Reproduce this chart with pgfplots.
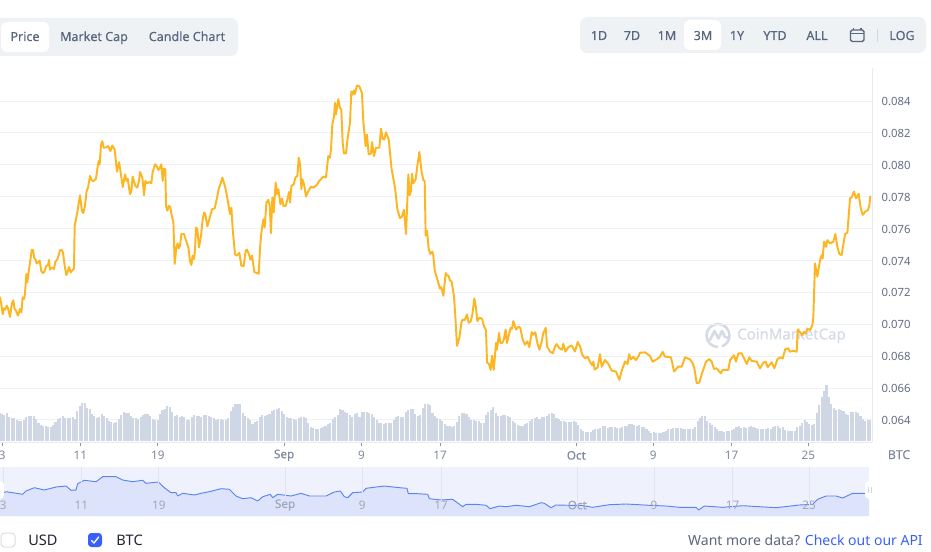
\documentclass[border=0pt]{standalone}
\usepackage{pgfplots}
\usepackage{pgfplotstable}
\usepackage{fontspec}
\setmainfont{Noto Sans}
\newfontfamily\semi[FakeBold=0.35]{Noto Sans}
\pgfplotsset{compat=1.18}
\definecolor{pricecol}{HTML}{FDB622}
\definecolor{gridcol}{HTML}{EFF2F5}
\definecolor{axcol}{HTML}{E6EAF1}
\definecolor{barcol}{HTML}{CFD6E4}
\definecolor{txtcol}{HTML}{616E85}
\definecolor{tabtxt}{HTML}{58667E}
\definecolor{tickcol}{HTML}{808A9D}
\definecolor{tabbg}{HTML}{EFF2F5}
\definecolor{navbg}{HTML}{EFF2FD}
\definecolor{navfill}{HTML}{DEE3FC}
\definecolor{navline}{HTML}{5A84F2}
\definecolor{navgrid}{HTML}{DFE3F5}
\definecolor{navtxt}{HTML}{A0A8B8}
\definecolor{wm}{HTML}{D5DBE6}
\definecolor{blue}{HTML}{3861FB}
\definecolor{dark}{HTML}{222531}
\pgfplotstableread{
d v
-0.21 0.07173
-0.07 0.07127
0.07 0.07063
0.21 0.07100
0.34 0.07092
0.48 0.07117
0.62 0.07100
0.82 0.07046
1.03 0.07133
1.16 0.07150
1.30 0.07096
1.44 0.07085
1.64 0.07054
1.85 0.07096
1.99 0.07075
2.12 0.07169
2.26 0.07158
2.36 0.07190
2.50 0.07315
2.60 0.07263
2.71 0.07315
2.95 0.07419
3.05 0.07467
3.19 0.07467
3.32 0.07413
3.43 0.07408
3.56 0.07381
3.70 0.07388
3.87 0.07400
4.04 0.07335
4.18 0.07321
4.35 0.07329
4.56 0.07367
4.73 0.07371
4.83 0.07404
4.93 0.07342
5.07 0.07354
5.21 0.07354
5.35 0.07346
5.48 0.07392
5.69 0.07408
5.82 0.07433
5.96 0.07463
6.13 0.07467
6.27 0.07450
6.44 0.07367
6.61 0.07308
6.75 0.07329
6.89 0.07360
7.06 0.07325
7.19 0.07335
7.40 0.07350
7.47 0.07618
7.54 0.07639
7.74 0.07701
8.02 0.07809
8.22 0.07712
8.36 0.07697
8.53 0.07743
8.70 0.07836
8.84 0.07857
9.05 0.07930
9.22 0.07905
9.39 0.07897
9.66 0.07913
9.84 0.07992
9.94 0.08024
10.04 0.08003
10.18 0.08128
10.31 0.08148
10.45 0.08107
10.66 0.08109
10.93 0.08117
11.14 0.08086
11.34 0.08121
11.58 0.08096
11.82 0.07957
12.03 0.08017
12.20 0.07951
12.41 0.07861
12.65 0.07940
12.78 0.07899
12.92 0.07913
13.16 0.07816
13.30 0.07836
13.43 0.07926
13.71 0.07868
13.91 0.07857
14.08 0.07899
14.19 0.07955
14.43 0.07920
14.60 0.07809
14.74 0.07899
14.94 0.07884
15.15 0.07892
15.35 0.07884
15.49 0.07955
15.73 0.08003
15.90 0.07992
16.07 0.07967
16.24 0.07982
16.38 0.08003
16.52 0.07899
16.62 0.07976
16.79 0.07972
16.86 0.07743
17.00 0.07712
17.17 0.07743
17.31 0.07732
17.41 0.07691
17.62 0.07639
17.75 0.07379
17.92 0.07483
18.06 0.07508
18.16 0.07476
18.30 0.07493
18.44 0.07566
18.71 0.07566
18.92 0.07524
19.16 0.07483
19.33 0.07393
19.47 0.07372
19.60 0.07431
19.74 0.07410
19.84 0.07462
19.94 0.07607
20.08 0.07597
20.25 0.07483
20.46 0.07556
20.63 0.07659
20.77 0.07701
20.90 0.07691
21.11 0.07614
21.31 0.07659
21.59 0.07722
21.86 0.07726
22.07 0.07784
22.27 0.07847
22.48 0.07884
22.65 0.07920
22.82 0.07888
23.03 0.07836
23.24 0.07764
23.44 0.07691
23.58 0.07732
23.71 0.07597
23.95 0.07441
24.12 0.07431
24.40 0.07447
24.60 0.07368
24.84 0.07364
25.05 0.07462
25.19 0.07468
25.43 0.07431
25.53 0.07406
25.70 0.07431
25.94 0.07327
26.18 0.07323
26.39 0.07316
26.52 0.07472
26.66 0.07576
26.87 0.07659
27.00 0.07607
27.18 0.07764
27.38 0.07780
27.52 0.07743
27.65 0.07572
27.79 0.07795
27.93 0.07701
28.13 0.07888
28.27 0.07816
28.41 0.07847
28.62 0.07753
28.79 0.07788
28.92 0.07743
29.17 0.07743
29.34 0.07784
29.51 0.07830
29.61 0.07764
29.75 0.07868
29.99 0.07878
30.16 0.07920
30.36 0.07930
30.50 0.08044
30.64 0.08003
30.77 0.07847
30.88 0.07909
31.05 0.07878
31.25 0.07801
31.49 0.07836
31.76 0.07863
32.00 0.07857
32.34 0.07872
32.62 0.07899
33.03 0.07926
33.30 0.07920
33.54 0.08055
33.71 0.08044
33.82 0.08096
33.95 0.08252
34.13 0.08304
34.23 0.08388
34.33 0.08315
34.57 0.08412
34.74 0.08356
34.88 0.08346
35.02 0.08138
35.15 0.08071
35.36 0.08071
35.53 0.08169
35.77 0.08263
35.91 0.08460
36.04 0.08440
36.18 0.08467
36.28 0.08444
36.49 0.08498
36.73 0.08492
37.00 0.08450
37.14 0.08273
37.38 0.08117
37.52 0.08190
37.69 0.08065
37.93 0.08071
38.03 0.08142
38.24 0.08055
38.44 0.08107
38.79 0.08107
38.96 0.08227
39.13 0.08163
39.30 0.08159
39.47 0.08204
39.75 0.08159
40.05 0.07972
40.40 0.07857
40.64 0.07722
40.91 0.07666
41.12 0.07676
41.32 0.07718
41.53 0.07566
41.77 0.07940
41.90 0.07809
42.04 0.07836
42.14 0.07944
42.28 0.07884
42.52 0.07909
42.69 0.07992
42.90 0.08080
43.14 0.07951
43.31 0.07905
43.45 0.07899
43.55 0.07556
43.69 0.07587
43.86 0.07472
44.03 0.07441
44.23 0.07456
44.34 0.07431
44.48 0.07337
44.78 0.07275
45.02 0.07223
45.16 0.07233
45.37 0.07179
45.61 0.07321
45.74 0.07306
45.88 0.07306
46.05 0.07275
46.22 0.07268
46.46 0.07175
46.60 0.07052
46.77 0.06865
47.01 0.06914
47.22 0.07009
47.35 0.07030
47.56 0.07026
47.66 0.07041
47.80 0.07062
47.97 0.07009
48.18 0.07019
48.35 0.07062
48.55 0.07162
48.72 0.07105
48.86 0.07020
49.07 0.07041
49.34 0.07035
49.55 0.06988
49.75 0.06963
49.86 0.06760
50.06 0.06752
50.23 0.06714
50.37 0.06804
50.54 0.06714
50.64 0.06777
50.78 0.06883
50.88 0.06841
51.09 0.06946
51.23 0.06883
51.43 0.06883
51.60 0.06908
51.77 0.06967
51.91 0.06883
52.15 0.06946
52.29 0.06978
52.43 0.06971
52.56 0.07020
52.84 0.06967
53.08 0.06984
53.28 0.06978
53.52 0.06904
53.76 0.06872
54.00 0.06893
54.21 0.06857
54.45 0.06950
54.58 0.06935
54.82 0.06950
55.03 0.06883
55.24 0.06841
55.44 0.06883
55.65 0.06946
55.89 0.06978
56.03 0.06861
56.33 0.06829
56.61 0.06819
56.85 0.06861
57.02 0.06876
57.29 0.06850
57.57 0.06841
57.70 0.06878
57.91 0.06829
58.22 0.06857
58.56 0.06867
58.90 0.06829
59.18 0.06889
59.42 0.06861
59.66 0.06808
59.93 0.06787
60.20 0.06797
60.44 0.06765
60.65 0.06744
60.79 0.06765
60.92 0.06716
61.23 0.06729
61.47 0.06813
61.64 0.06735
61.98 0.06776
62.33 0.06751
62.67 0.06710
63.11 0.06704
63.46 0.06652
63.73 0.06714
64.04 0.06766
64.31 0.06751
64.45 0.06813
64.66 0.06780
64.90 0.06797
65.14 0.06776
65.41 0.06797
65.58 0.06822
66.10 0.06824
66.61 0.06801
66.88 0.06766
67.30 0.06780
67.64 0.06797
67.91 0.06828
68.15 0.06797
68.77 0.06793
69.08 0.06704
69.52 0.06735
69.87 0.06735
70.21 0.06793
70.72 0.06780
71.00 0.06755
71.17 0.06724
71.41 0.06631
71.68 0.06635
71.96 0.06693
72.37 0.06766
72.71 0.06782
72.95 0.06766
73.19 0.06720
73.46 0.06724
73.88 0.06693
74.08 0.06714
74.66 0.06714
74.84 0.06776
75.25 0.06806
75.45 0.06766
75.69 0.06818
76.03 0.06818
76.55 0.06751
76.82 0.06793
77.06 0.06770
77.58 0.06766
77.92 0.06724
78.26 0.06760
78.50 0.06766
78.71 0.06731
79.12 0.06762
79.39 0.06724
79.70 0.06780
79.98 0.06793
80.25 0.06786
80.52 0.06845
80.83 0.06849
81.00 0.06828
81.35 0.06834
81.69 0.06828
81.79 0.06967
82.03 0.06952
82.27 0.06932
82.44 0.06952
82.61 0.06942
82.79 0.06973
83.06 0.06963
83.30 0.06994
83.40 0.07046
83.57 0.07382
83.81 0.07298
84.09 0.07403
84.26 0.07434
84.36 0.07413
84.50 0.07518
84.71 0.07486
84.84 0.07528
85.12 0.07507
85.46 0.07518
85.66 0.07566
85.87 0.07486
86.08 0.07440
86.31 0.07434
86.66 0.07566
86.90 0.07575
87.17 0.07790
87.34 0.07797
87.58 0.07832
87.79 0.07790
88.06 0.07818
88.27 0.07728
88.47 0.07686
88.75 0.07707
89.02 0.07717
89.16 0.07748
89.26 0.07805
}\pricedata
\pgfplotstableread{
d h
-0.31 21.7
0.31 24.3
1.0 23.3
2.02 21.7
2.36 25
3.22 28.3
4.25 26
5.45 29
6.48 30
6.99 25.7
7.5 26
7.68 32.3
8.36 35.7
9.56 34.3
10.25 39.3
11.62 39.3
12.30 36
13.33 34.3
14.36 35.7
14.70 32.7
15.97 34
16.59 28.3
17.27 23.3
17.79 23.3
17.96 20
18.47 22.7
19.67 21
20.36 22.7
21.21 24.3
22.41 27.3
23.27 26.7
23.95 20
24.64 17.3
25.50 18.3
26.18 15
26.70 19.3
27.48 21.7
27.72 18.3
28.24 21.7
29.61 20
30.64 22.7
31.49 20
33.21 20
34.06 24
34.68 25
35.09 19.3
35.43 18.3
35.95 23.3
36.98 24
37.32 27.7
39.2 30
40.75 28.3
41.53 27.7
41.67 22.3
42.63 22.3
43.66 21.7
43.83 17.3
45.03 16
46.23 16.7
47.26 9.3
47.60 11.7
48.63 11.7
49.66 10.7
50.07 7.3
51.03 10
51.71 9.3
52.74 10.7
54.11 9.3
55.31 13.3
55.65 12.7
56.34 8.3
56.85 11
58.22 10.7
59.42 10.7
60.62 8.7
62.34 11.3
64.05 12
66.45 10.7
68.16 10
69.53 8.7
71.25 8.7
71.52 6
72.10 10
73.99 8.7
76.04 10.3
79.47 8.3
81.87 11
83.24 11.7
83.75 16.7
84.61 20
85.64 20
86.32 18
87.35 22.7
88.55 22.7
89.03 22.2
}\navdata
\begin{document}
\begin{tikzpicture}
\fill[white] (0,0) rectangle (698.25pt,413.25pt);
\begin{scope}[x=0.75pt,y=-0.75pt,yshift=413.25pt]
 % watermark
 \draw[wm,line width=1.9pt] (718,335.5) ++(90:11.5) arc (90:430:11.5);
 \draw[wm,line width=1.9pt,line cap=round,line join=round] (710,340) -- (714.5,331) -- (718.5,338.5) -- (722,331) -- (725,337) -- (729,338);
 \node[text=wm,font=\semi\fontsize{11.2}{12}\selectfont,anchor=west,inner sep=0] at (737,335.5) {CoinMarketCap};
\end{scope}
% main axis
\begin{axis}[
 at={(0pt,81.75pt)},anchor=south west,scale only axis,width=654pt,height=280.5pt,
 xmin=-0.206,xmax=89.43,ymin=0.06262,ymax=0.08607,
 axis x line*=bottom,axis y line*=right,
 axis line style={-,draw=axcol,line width=0.75pt},
 ymajorgrids,grid style={gridcol,line width=0.75pt},
 ytick={0.064,0.066,0.068,0.070,0.072,0.074,0.076,0.078,0.080,0.082,0.084},
 scaled y ticks=false,
 yticklabel style={/pgf/number format/fixed,/pgf/number format/fixed zerofill,/pgf/number format/precision=3,/pgf/number format/assume math mode=true,text=txtcol,font=\fontsize{8.5}{10}\selectfont,anchor=west,xshift=0.7pt,yshift=-0.4pt},
 y tick style={draw=none},
 xtick={0.03,8.05,16.02,29.0,36.94,45.03,59.04,66.93,75.0,82.88},
 xticklabels={3,11,19,{\semi Sep},9,17,{\semi Oct},9,17,25},
 xticklabel style={text=tickcol,font=\fontsize{8.8}{10}\selectfont,anchor=center,yshift=-7pt},
 x tick style={draw=tickcol!90,line width=0.75pt},
 tick align=outside,major tick length=3pt,
 clip=true,
]
\addplot[pricecol,line width=1.45pt,line join=round] table[x=d,y=v] {\pricedata};
\end{axis}
% volume
\begin{axis}[
 at={(0pt,82.5pt)},anchor=south west,scale only axis,width=654pt,height=45pt,
 xmin=-0.206,xmax=89.43,ymin=0,ymax=60,hide axis,clip=true,
]
\addplot[ycomb,barcol,line width=1.55pt] table[x expr=\coordindex*0.25-0.25,y index=0,header=false,row sep=crcr] {
28\\27\\26\\28\\24\\23\\23\\21\\20.5\\20\\21\\24\\25\\25\\25\\22\\18\\16.5\\15\\15\\14.5\\14.5\\16\\19\\22\\23\\25\\23\\23\\23\\24\\22\\30\\35\\38\\38\\33\\32\\27\\25\\23\\24\\27\\25\\23.5\\20\\19\\18\\19\\22\\26\\29\\28\\28\\25\\23\\23\\22\\24\\26\\27.5\\27\\25\\22\\21\\21\\27\\31\\32\\35\\34\\29\\25\\26\\24\\25\\24\\21.5\\21.5\\24\\26\\25.5\\25\\24.5\\26\\26\\25\\24.5\\23\\21\\22\\22\\21\\21\\23\\30\\34\\37\\37\\37\\28\\25\\23\\21\\
17\\19\\20\\24\\26\\25\\26\\27\\30\\31.5\\32\\33\\30\\27\\24\\23\\23\\22\\21\\23\\24\\24\\23\\18\\14\\13\\12\\12\\13\\14\\15\\17\\18\\22\\24.5\\26\\32\\31\\29\\28\\26\\24\\27\\28\\24.5\\29\\29\\29\\28\\27.5\\24\\21\\18\\18\\17\\18\\18\\18\\21\\24\\25\\24.5\\24\\29\\31\\32\\32\\27\\25\\26\\33\\37\\37\\36\\28\\25\\23.5\\22\\20\\17.5\\15\\15\\14\\15\\19\\25\\28\\28.5\\27\\24\\21\\21\\20.5\\20.5\\18\\18\\26\\29\\31\\34\\28\\25\\25.5\\26\\26\\25.5\\24\\20.5\\18\\16.5\\15\\15.5\\17\\18\\20.5\\22\\23\\24\\22\\24\\24\\25.5\\27\\28\\27\\23\\22\\
20\\20\\19\\19\\19.5\\20\\19\\16.5\\12.5\\10\\9\\9\\9.5\\11\\12\\12.5\\13\\15\\15\\13.5\\14.5\\14\\14.5\\13\\13.5\\14.5\\15\\15.5\\17\\17\\16\\15\\16\\14.5\\14\\12.5\\10\\8.5\\9\\8.5\\8.5\\8.5\\9\\10.5\\12\\12.5\\13.5\\13\\13.5\\13.5\\12\\12.5\\12\\12\\12.5\\14\\20\\23.5\\25\\25\\20\\18\\16\\14.5\\12\\10\\10\\9\\10\\10.5\\11.5\\12.5\\14\\15\\13.5\\14\\13.5\\14.5\\15\\14\\13.5\\12\\12\\12\\12\\13\\12\\14\\15.5\\15\\13.5\\14\\11.5\\10\\10.5\\10.5\\10\\14.5\\15.5\\18\\21\\19\\17.5\\16.5\\17\\28\\36\\44\\50\\56\\44\\37\\33\\31\\32\\31\\30\\27.5\\26\\29\\29\\29\\28\\25\\22\\20\\21\\21\\
};
\end{axis}
% navigator
\begin{axis}[
 at={(0pt,26.25pt)},anchor=south west,scale only axis,width=651.75pt,height=36.75pt,
 xmin=-0.31,xmax=89.03,ymin=0,ymax=49,
 axis background/.style={fill=navbg},
 axis on top,
 axis line style={draw=none},
 ytick=\empty,
 xtick={0.03,8.05,16.02,29.0,36.94,45.03,59.04,66.93,75.0,82.88},
 xticklabels={3,11,19,{\semi Sep},9,17,{\semi Oct},9,17,25},
 xmajorgrids,grid style={navgrid,line width=0.75pt},
 xticklabel style={text=navtxt,font=\fontsize{8.8}{10}\selectfont,anchor=center,yshift=8.2pt},
 major tick length=0pt,
 clip=true,
]
\addplot[fill=navfill,draw=none] table[x=d,y=h] {\navdata} \closedcycle;
\addplot[navline,line width=0.7pt,line join=round] table[x=d,y=h] {\navdata};
\end{axis}
\begin{scope}[x=0.75pt,y=-0.75pt,yshift=413.25pt]
 % navigator handles
 \fill[white,rounded corners=3pt] (-8,481) rectangle (4,499);
 \fill[white,rounded corners=3pt] (865,481) rectangle (875,499);
 \draw[barcol,line width=0.5pt] (868.6,487) -- (868.6,493) (871,487) -- (871,493);
 % BTC unit label
 \node[text=tickcol,font=\semi\fontsize{9.2}{10}\selectfont,inner sep=0,anchor=base] at (899,459) {BTC};
 % left tabs
 \fill[tabbg,rounded corners=5.5pt] (-12,18) rectangle (238,56);
 \fill[white,rounded corners=4pt] (1,22) rectangle (49,52);
 \begin{scope}[every node/.style={text=tabtxt,font=\semi\fontsize{9.4}{10}\selectfont,inner sep=0,anchor=base}]
 \node at (25,41) {Price};
 \node at (94,41) {Market Cap};
 \node at (187,41) {Candle Chart};
 \end{scope}
 % right tabs
 \fill[tabbg,rounded corners=5.5pt] (580,17) rectangle (926,53);
 \fill[white,rounded corners=4pt] (684,20) rectangle (721,50);
 \begin{scope}[every node/.style={text=tabtxt,font=\semi\fontsize{9.4}{10}\selectfont,inner sep=0,anchor=base}]
 \node at (599,40) {1D};
 \node at (632,40) {7D};
 \node at (667,40) {1M};
 \node at (703,40) {3M};
 \node at (737,40) {1Y};
 \node at (775,40) {YTD};
 \node at (817,40) {ALL};
 \node at (902,40) {LOG};
 \end{scope}
 \draw[tabtxt,line width=1pt,rounded corners=1.2pt] (850.5,30) rectangle (864,41.5);
 \draw[tabtxt,line width=1pt] (850.5,33.6) -- (864,33.6) (853.5,27.6) -- (853.5,30) (861,27.6) -- (861,30);
 \draw[barcol,line width=0.6pt] (877,29) -- (877,42);
 % checkboxes
 \fill[white] (1,533) rectangle (15,547);
 \draw[black!13,line width=0.75pt,rounded corners=2.5pt] (1,533) rectangle (15,547);
 \fill[blue,rounded corners=2.5pt] (88,533) rectangle (102,547);
 \draw[white,line width=1pt,line join=round,line cap=round] (91.5,540.5) -- (94,543) -- (98.7,537);
 \node[text=dark,font=\fontsize{10.9}{12}\selectfont,anchor=base west,inner sep=0] at (28,545) {USD};
 \node[text=dark,font=\fontsize{10.9}{12}\selectfont,anchor=base west,inner sep=0] at (116,545) {BTC};
 \node[font=\fontsize{10.5}{12}\selectfont,anchor=base east,inner sep=0] at (923,545) {\textcolor{tabtxt}{Want more data? }\textcolor{blue}{Check out our API}};
\end{scope}
\pgfresetboundingbox
\useasboundingbox (0,0) rectangle (698.25pt,413.25pt);
\end{tikzpicture}
\end{document}
